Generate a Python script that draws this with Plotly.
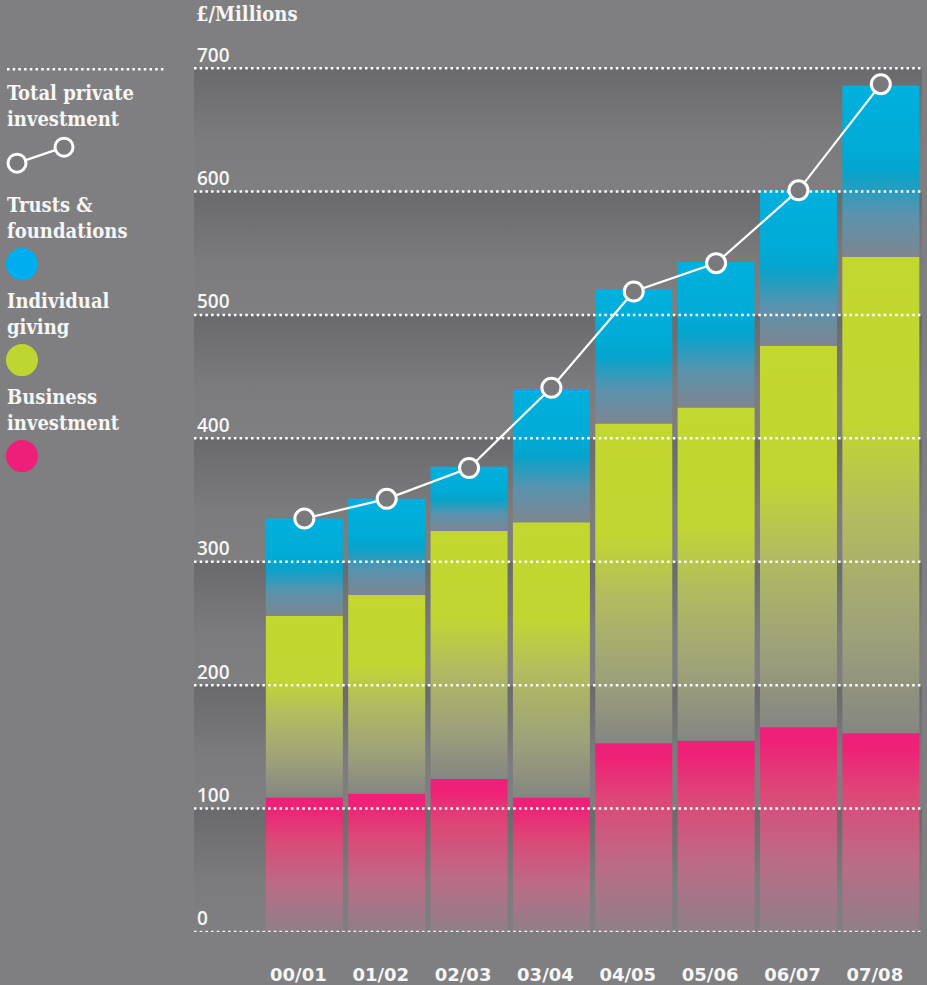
import plotly.graph_objects as go

# ---------------- data ----------------
years = ["00/01", "01/02", "02/03", "03/04", "04/05", "05/06", "06/07", "07/08"]
business = [109, 112, 124, 109, 153, 155, 166, 161]
individual = [147, 161, 201, 223, 259, 270, 309, 386]
trusts = [79, 78, 52, 108, 109, 118, 126, 139]
total = [335, 351, 376, 441, 519, 542, 601, 687]
y_ticks = [0, 100, 200, 300, 400, 500, 600, 700]

# ---------------- style ----------------
W, H = 927, 985
SCALE = 864 / 700          # px per unit
Y_TOP = 722
ML, MR, MB = 194, 5, 53
MT = 68 - (Y_TOP - 700) * SCALE
PW, PH = W - ML - MR, H - MT - MB
X_MIN, X_MAX = -1.34, 7.5
BAR_W = 0.935
BG = "#7f7f81"
TXT = "#f6f6f6"
SERIF = "DejaVu Serif Condensed, DejaVu Serif"
SANS = "Open Sans"

grad_trusts = [[0, "#7e8590"], [0.25, "#5a93ad"], [0.5, "#04a4cc"], [0.62, "#00abd6"], [1, "#00b0de"]]
grad_indiv = [[0, "#858682"], [0.2, "#9ea07a"], [0.45, "#b2bb60"], [0.65, "#c2d632"], [1, "#c2d72f"]]
grad_bus = [[0, "#8e7f88"], [0.35, "#bb6c86"], [0.7, "#dd4778"], [0.92, "#ee2277"], [1, "#ee1f78"]]
grad_band = [[0, "#7f7f81"], [0.4, "#7c7c7e"], [1, "#6a6a6c"]]


def px2x(px):
    return (px - ML) / PW


def py2y(py):
    return (H - MB - py) / PH


fig = go.Figure()

# background gradient bands between gridlines
for lo, hi in zip(y_ticks[:-1], y_ticks[1:]):
    fig.add_trace(go.Scatter(
        x=[X_MIN, X_MAX, X_MAX, X_MIN, X_MIN], y=[lo, lo, hi, hi, lo],
        mode="none", fill="toself",
        fillgradient=dict(type="vertical", colorscale=grad_band),
        hoverinfo="skip", showlegend=False))

# stacked bar segments with vertical gradients
for i, yr in enumerate(years):
    x0, x1 = i - BAR_W / 2, i + BAR_W / 2
    base = 0
    for vals, cs, name in ((business, grad_bus, "Business investment"),
                           (individual, grad_indiv, "Individual giving"),
                           (trusts, grad_trusts, "Trusts & foundations")):
        top = base + vals[i]
        fig.add_trace(go.Scatter(
            x=[x0, x1, x1, x0, x0], y=[base, base, top, top, base],
            mode="none", fill="toself",
            fillgradient=dict(type="vertical", colorscale=cs),
            name=name, hoverinfo="name+text", text=[f"{yr}: {vals[i]}"] * 5,
            showlegend=False))
        base = top

# dotted gridlines (above bars, below line)
gx, gy = [], []
for t in y_ticks:
    gx += [X_MIN, X_MAX, None]
    gy += [t, t, None]
fig.add_trace(go.Scatter(x=gx, y=gy, mode="lines",
                         line=dict(color="white", width=2.5, dash="2.5px,3.2px"),
                         hoverinfo="skip", showlegend=False))

# total line
fig.add_trace(go.Scatter(
    x=list(range(len(years))), y=total, mode="lines+markers",
    line=dict(color="white", width=2.2),
    marker=dict(size=19, color="#7a7a7c", line=dict(color="white", width=3)),
    name="Total private investment", showlegend=False))

# ---------------- legend (custom) ----------------
ann = []
shapes = []
shapes.append(dict(type="line", xref="paper", yref="paper",
                   x0=px2x(7), x1=px2x(165), y0=py2y(69), y1=py2y(69),
                   line=dict(color="white", width=2.5, dash="2.5px,3.2px")))

legend_texts = [("Total private<br>investment", 106),
                ("Trusts &<br>foundations", 218),
                ("Individual<br>giving", 314),
                ("Business<br>investment", 410)]
for t, yc in legend_texts:
    ann.append(dict(text=t, xref="paper", yref="paper", x=px2x(5), y=py2y(yc),
                    xanchor="left", yanchor="middle", align="left", showarrow=False,
                    font=dict(family=SERIF, size=20, color=TXT, weight="bold")))

# legend line sample
shapes.append(dict(type="line", xref="paper", yref="paper",
                   x0=px2x(17), y0=py2y(163), x1=px2x(64), y1=py2y(147),
                   line=dict(color="white", width=2.2)))
for cx, cy in ((17, 163), (64, 147)):
    shapes.append(dict(type="circle", xref="paper", yref="paper",
                       xsizemode="pixel", ysizemode="pixel",
                       xanchor=px2x(cx), yanchor=py2y(cy),
                       x0=-9, x1=9, y0=-9, y1=9,
                       fillcolor="#7a7a7c", line=dict(color="white", width=3)))

for col, cy in (("#00aeef", 264), ("#c0d630", 360), ("#ee1f78", 456)):
    shapes.append(dict(type="circle", xref="paper", yref="paper",
                       xsizemode="pixel", ysizemode="pixel",
                       xanchor=px2x(22), yanchor=py2y(cy),
                       x0=-16, x1=16, y0=-16, y1=16,
                       fillcolor=col, line=dict(width=0)))

ann.append(dict(text="£/Millions", xref="paper", yref="paper", x=px2x(194), y=py2y(14),
                xanchor="left", yanchor="middle", showarrow=False,
                font=dict(family=SERIF, size=20, color=TXT, weight="bold")))

fig.update_layout(
    width=W, height=H,
    margin=dict(l=ML, r=MR, t=MT, b=MB, pad=0, autoexpand=False),
    paper_bgcolor=BG, plot_bgcolor=BG,
    showlegend=False,
    annotations=ann, shapes=shapes,
    xaxis=dict(range=[X_MIN, X_MAX], tickvals=list(range(len(years))), ticktext=years,
               showgrid=False, zeroline=False, showline=False, ticks="",
               automargin=False, ticklabelstandoff=30, ticklabelshift=-6,
               fixedrange=True,
               tickfont=dict(family="DejaVu Sans", size=18, color=TXT, weight="bold")),
    yaxis=dict(range=[0, Y_TOP], tickvals=y_ticks, ticktext=[str(t) for t in y_ticks],
               showgrid=False, zeroline=False, showline=False, ticks="",
               automargin=False, ticklabelposition="inside top", fixedrange=True,
               tickfont=dict(family=SANS, size=19, color=TXT, weight=600)),
)

fig.write_html("out.html")
